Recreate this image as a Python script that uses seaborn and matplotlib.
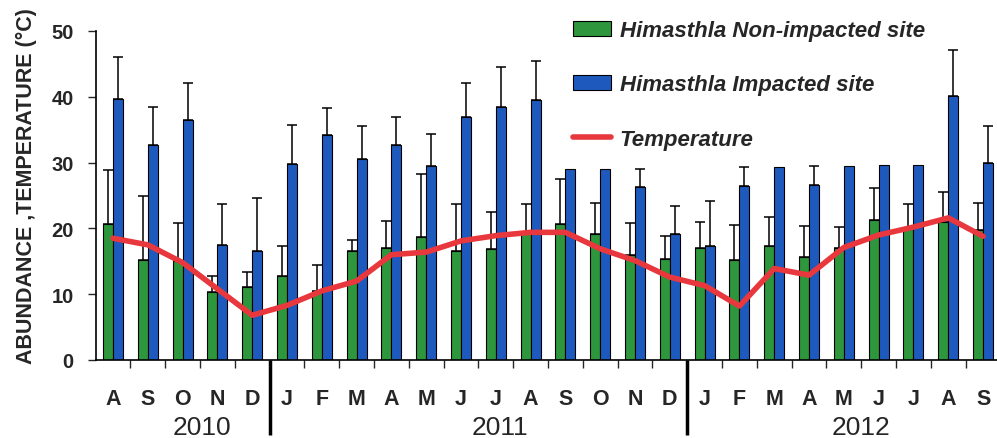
import numpy as np
import pandas as pd
import matplotlib
matplotlib.use("Agg")
import matplotlib.pyplot as plt
import matplotlib.transforms as mtransforms
from matplotlib.patches import Patch
from matplotlib.lines import Line2D
import seaborn as sns

# ---------------- data ----------------
months = ["A", "S", "O", "N", "D",
          "J", "F", "M", "A", "M", "J", "J", "A", "S", "O", "N", "D",
          "J", "F", "M", "A", "M", "J", "J", "A", "S"]
years = ["2010", "2011", "2012"]

non_impacted = [20.7, 15.2, 15.0, 10.3, 11.1,
                12.8, 10.5, 16.5, 17.0, 18.7, 16.6, 16.9, 19.4, 20.7, 19.2, 16.0, 15.3,
                17.0, 15.2, 17.3, 15.6, 17.0, 21.3, 19.9, 20.9, 19.8]
non_impacted_err_top = [28.9, 25.0, 20.8, 12.8, 13.3,
                        17.4, 14.5, 18.3, 21.2, 28.3, 23.7, 22.5, 23.7, 27.5, 23.9, 20.8, 18.8,
                        20.9, 20.5, 21.7, 20.3, 20.2, 26.1, 23.7, 25.5, 23.8]

impacted = [39.6, 32.6, 36.5, 17.5, 16.5,
            29.8, 34.2, 30.5, 32.6, 29.5, 36.9, 38.5, 39.5, 29.0, 29.0, 26.3, 19.1,
            17.4, 26.5, 29.4, 26.6, 29.5, 29.6, 29.6, 40.1, 29.9]
impacted_err_top = [46.1, 38.4, 42.1, 23.7, 24.6,
                    35.7, 38.3, 35.5, 36.9, 34.4, 42.1, 44.5, 45.5, np.nan, np.nan, 29.0, 23.4,
                    24.2, 29.4, np.nan, 29.5, np.nan, np.nan, np.nan, 47.1, 35.5]

temperature = [18.5, 17.5, 14.8, 10.8, 6.8,
               8.3, 10.5, 12.0, 16.0, 16.4, 18.1, 18.9, 19.4, 19.4, 16.9, 15.1, 12.6,
               11.3, 8.2, 13.9, 12.9, 17.1, 19.0, 20.2, 21.6, 18.8]

labels = ["Himasthla Non-impacted site", "Himasthla Impacted site", "Temperature"]

# ---------------- style ----------------
sns.set_style("white")
plt.rcParams["font.family"] = ["Liberation Sans", "DejaVu Sans"]

green = "#2e963c"
blue = "#1e5abe"
red = "#e8383d"

n = len(months)
idx = np.arange(n)
df = pd.DataFrame({
    "idx": np.concatenate([idx, idx]),
    "value": non_impacted + impacted,
    "site": [labels[0]] * n + [labels[1]] * n,
})

fig = plt.figure(figsize=(9.97, 4.39), dpi=100)
ax = fig.add_axes([96 / 997, 1 - 361 / 439, 1 - 96 / 997, 329 / 439])

bar_w = 0.575
sns.barplot(data=df, x="idx", y="value", hue="site", hue_order=labels[:2],
            palette=[green, blue], width=bar_w, edgecolor="black", linewidth=0.8,
            errorbar=None, saturation=1, ax=ax, legend=False, zorder=2)

# error bars (upper only)
off = bar_w / 4
for vals, tops, sgn in [(non_impacted, non_impacted_err_top, -1),
                        (impacted, impacted_err_top, 1)]:
    v = np.array(vals)
    t = np.array(tops)
    m = ~np.isnan(t)
    ax.errorbar(idx[m] + sgn * off, v[m], yerr=[np.zeros(m.sum()), (t - v)[m]],
                fmt="none", ecolor="black", elinewidth=1.1, capsize=3.6,
                capthick=1.1, zorder=3)

# temperature
sns.lineplot(x=idx, y=temperature, color=red, linewidth=4, ax=ax, zorder=4,
             estimator=None, sort=False)

ax.set_xlim(-0.49, 25.4)
ax.set_ylim(0, 50)
ax.set_yticks([0, 10, 20, 30, 40, 50])
ax.set_yticklabels(["0", "10", "20", "30", "40", "50"], fontsize=14.5, fontweight="bold")
ax.tick_params(axis="y", direction="out", length=6, width=1, pad=10, left=True)

ax.set_xticks(idx)
ax.set_xticklabels(months, fontsize=15.5, fontweight="bold")
ax.tick_params(axis="x", which="major", length=0, pad=20)
ax.set_xticks(np.arange(0.5, n - 1, 1), minor=True)
ax.tick_params(axis="x", which="minor", direction="out", length=6, width=1, bottom=True)
ax.set_xlabel("")
ax.set_ylabel("")

for s in ["top", "right"]:
    ax.spines[s].set_visible(False)
for s in ["left", "bottom"]:
    ax.spines[s].set_color("black")
    ax.spines[s].set_linewidth(1.2)

trans = mtransforms.blended_transform_factory(ax.transData, ax.transAxes)
for xs in [4.5, 16.5]:
    ax.plot([xs, xs], [0, -0.228], transform=trans, color="black", lw=2.5,
            clip_on=False, solid_capstyle="butt")
for xp, yr in zip([2.56, 11.12, 21.5], years):
    ax.text(xp, -0.205, yr, transform=trans, ha="center", va="center", fontsize=19)

fig.text(26 / 997, 1 - 186 / 439, "ABUNDANCE ,TEMPERATURE (°C)", rotation=90,
         ha="center", va="center", fontsize=15.5, fontweight="bold")

handles = [Patch(facecolor=green, edgecolor="black", linewidth=0.8),
           Patch(facecolor=blue, edgecolor="black", linewidth=0.8),
           Line2D([0], [0], color=red, lw=4)]
fig.legend(handles, labels, loc="upper left", bbox_to_anchor=(573 / 997, 1 - 21 / 439),
           frameon=False, prop={"size": 16, "weight": "bold", "style": "italic"},
           handlelength=1.7, handleheight=0.65, handletextpad=0.4, labelspacing=1.5,
           borderpad=0, borderaxespad=0)

fig.savefig("out.png", dpi=100)
